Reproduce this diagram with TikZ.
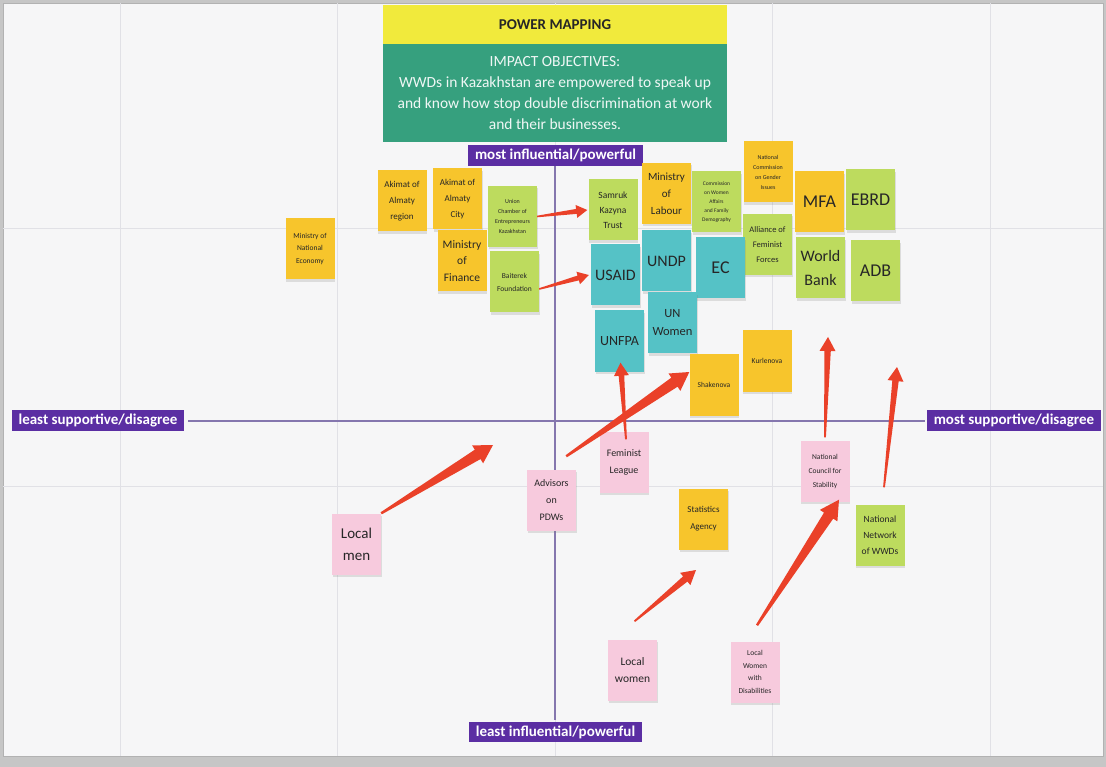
\documentclass[tikz,border=0pt]{standalone}
\usepackage{fontspec}
\setmainfont{Carlito}
\usetikzlibrary{arrows.meta, positioning, shadows, calc}

\definecolor{notegold}{HTML}{F7C52C}
\definecolor{notelime}{HTML}{BDDB5E}
\definecolor{noteteal}{HTML}{55C2C6}
\definecolor{notepink}{HTML}{F7CADD}
\definecolor{axispurple}{HTML}{5B2EA3}
\definecolor{axisline}{HTML}{8577AE}
\definecolor{headyellow}{HTML}{F1EA3C}
\definecolor{headgreen}{HTML}{36A07E}
\definecolor{arrowred}{HTML}{EA4129}
\definecolor{boardgray}{HTML}{F6F6F7}
\definecolor{gridgray}{HTML}{E1E1E6}

% wedge arrow: from, to, tail half width, shaft half width, head half width, head length
\newcommand{\wedgearrow}[6]{%
  \path ($(#2)!#6!(#1)$) coordinate (wedgebase);
  \fill[arrowred]
    ($(#1)!#3!90:(#2)$)
    -- ($(wedgebase)!#4!-90:(#1)$)
    -- ($(wedgebase)!#5!-90:(#1)$)
    -- (#2)
    -- ($(wedgebase)!#5!90:(#1)$)
    -- ($(wedgebase)!#4!90:(#1)$)
    -- ($(#1)!#3!-90:(#2)$) -- cycle;}

\begin{document}
\begin{tikzpicture}[
    x=1pt, y=-1pt,
    note/.style={minimum width=49pt, minimum height=61pt, inner sep=1pt,
        align=center, text=black!85,
        drop shadow={shadow xshift=0.5pt, shadow yshift=-2.5pt, opacity=0.22}},
    gold/.style={note, fill=notegold},
    lime/.style={note, fill=notelime},
    teal/.style={note, fill=noteteal},
    pink/.style={note, fill=notepink},
    fs/.style 2 args={font=\fontsize{#1}{#2}\selectfont},
    axislabel/.style={fill=axispurple, text=white, inner xsep=7pt, inner ysep=4pt,
        font=\fontsize{15}{16}\bfseries\selectfont}
]

% board
\useasboundingbox (0,0) rectangle (1106,767);
\fill[gray!45] (0,0) rectangle (1106,767);
\fill[boardgray, draw=gray!60] (3,3) rectangle (1103,756);
\foreach \gx in {120, 337, 772, 990}
    \draw[gridgray] (\gx,3) -- (\gx,756);
\foreach \gy in {228, 486}
    \draw[gridgray] (3,\gy) -- (1103,\gy);
\draw[gridgray] (555,3) -- (555,756);

% axes
\draw[axisline, line width=1.1pt] (188,421) -- (925,421);
\draw[axisline, line width=1.1pt] (555,166) -- (555,720);

% header
\node[fill=headyellow, minimum width=344pt, minimum height=39pt,
      font=\fontsize{15}{17}\bfseries\selectfont, text=black!85] (title) at (555,24.5) {POWER MAPPING};
\node[fill=headgreen, minimum width=344pt, minimum height=98pt, align=center,
      text=white!92!headgreen, font=\fontsize{15.5}{21}\selectfont, below=0pt of title] (impact)
    {IMPACT OBJECTIVES:\\ WWDs in Kazakhstan are empowered to speak up\\
     and know how stop double discrimination at work\\ and their businesses.};

% axis labels
\node[axislabel] (mostinf) at (555.5,155.5) {most influential/powerful};
\node[axislabel] (leastinf) at (555.5,732) {least influential/powerful};
\node[axislabel] (leastsup) at (98,420.5) {least supportive/disagree};
\node[axislabel] (mostsup) at (1014,420.5) {most supportive/disagree};

% actors
\node[gold, fs={7.5}{12.5}] (mne) at (310,249) {Ministry of\\ National\\ Economy};
\node[gold, fs={9}{16}] (akregion) at (402,201) {Akimat of\\ Almaty\\ region};
\node[gold, fs={9}{16}] (akcity) at (457.5,199) {Akimat of\\ Almaty\\ City};
\node[gold, fs={11.5}{16.5}] (minfin) at (462,261) {Ministry\\ of\\ Finance};
\node[lime, fs={6}{10}] (chamber) at (512.5,216.5) {Union\\ Chamber of\\ Entrepreneurs\\ Kazakhstan};
\node[lime, fs={7.5}{13}] (baiterek) at (514.5,282) {Baiterek\\ Foundation};
\node[lime, fs={9.5}{15}] (samruk) at (613,210) {Samruk\\ Kazyna\\ Trust};
\node[gold, fs={11}{17}] (minlab) at (666.5,193.5) {Ministry\\ of\\ Labour};
\node[lime, fs={5.5}{9}] (committee) at (716.5,202) {Commission\\ on Women\\ Affairs\\ and Family\\ Demography};
\node[gold, fs={6}{10}] (gender) at (768,172) {National\\ Commission\\ on Gender\\ Issues};
\node[lime, fs={8.5}{15}] (alliance) at (767.5,244.5) {Alliance of\\ Feminist\\ Forces};
\node[gold, fs={18}{20}] (mfa) at (819.5,202) {MFA};
\node[lime, fs={18}{20}] (ebrd) at (870.5,200) {EBRD};
\node[lime, fs={16}{24}] (wb) at (820.5,268) {World\\ Bank};
\node[lime, fs={18}{20}] (adb) at (875.5,271) {ADB};
\node[teal, fs={16}{18}] (usaid) at (615.5,275) {USAID};
\node[teal, fs={16}{18}] (undp) at (666.5,261) {UNDP};
\node[teal, fs={18}{20}] (ec) at (720.5,268) {EC};
\node[teal, fs={12.5}{18}] (unwomen) at (672.5,323) {UN\\ Women};
\node[teal, fs={14}{16}] (unfpa) at (619.5,341) {UNFPA};
\node[gold, fs={7.5}{9}] (shakenova) at (714,385) {Shakenova};
\node[gold, fs={7.5}{9}] (kurlenova) at (767,361) {Kurlenova};
\node[pink, fs={10}{17}] (feminist) at (624,462) {Feminist\\ League};
\node[pink, fs={10}{17}] (advisors) at (551.5,500) {Advisors\\ on\\ PDWs};
\node[pink, fs={7.5}{14}] (council) at (825,471) {National\\ Council for\\ Stability};
\node[gold, fs={9}{17}] (stats) at (703.5,519) {Statistics\\ Agency};
\node[lime, fs={9.5}{16}] (network) at (880,535) {National\\ Network\\ of WWDs};
\node[pink, fs={15}{22}] (localmen) at (356.5,544) {Local\\ men};
\node[pink, fs={11.5}{17}] (localwomen) at (632.5,670) {Local\\ women};
\node[pink, fs={7.5}{12.5}] (lwd) at (755,672) {Local\\ Women\\ with\\ Disabilities};

% arrow ends
\coordinate (chamberout) at (chamber.east);
\coordinate (samrukin) at ([xshift=-1pt]samruk.west);
\coordinate (baiterekout) at ([yshift=-7pt]baiterek.east);
\coordinate (usaidin) at ([xshift=-2pt]usaid.west);
\coordinate (menout) at (localmen.north east);
\coordinate (menhead) at (493,445);
\coordinate (advisorsout) at ([xshift=-10pt, yshift=13pt]advisors.north east);
\coordinate (shakenovain) at ([yshift=13pt]shakenova.west);
\coordinate (feministout) at ([xshift=2pt, yshift=-8pt]feminist.north);
\coordinate (unfpain) at ([xshift=1pt, yshift=9pt]unfpa.south);
\coordinate (councilout) at ([yshift=3pt]council.north);
\coordinate (councilhead) at (828,337);
\coordinate (networkout) at ([xshift=4pt, yshift=17pt]network.north);
\coordinate (networkhead) at (897,367);
\coordinate (womenout) at ([xshift=2pt, yshift=18pt]localwomen.north);
\coordinate (womenhead) at (696,570);
\coordinate (lwdout) at ([xshift=2pt, yshift=16pt]lwd.north);
\coordinate (councilin) at ([xshift=14pt, yshift=2pt]council.south);

% arrows
\wedgearrow{chamberout}{samrukin}{0.8pt}{2.5pt}{6.5pt}{11pt}
\wedgearrow{baiterekout}{usaidin}{0.8pt}{2.5pt}{6.5pt}{11pt}
\wedgearrow{menout}{menhead}{1.2pt}{5.5pt}{10.5pt}{18pt}
\wedgearrow{advisorsout}{shakenovain}{1.2pt}{5.5pt}{10.5pt}{18pt}
\wedgearrow{feministout}{unfpain}{0.9pt}{2.8pt}{7.5pt}{13pt}
\wedgearrow{councilout}{councilhead}{0.9pt}{3.2pt}{8pt}{14pt}
\wedgearrow{networkout}{networkhead}{0.9pt}{3.2pt}{8pt}{14pt}
\wedgearrow{womenout}{womenhead}{0.9pt}{3.4pt}{8pt}{14pt}
\wedgearrow{lwdout}{councilin}{1.2pt}{5.5pt}{10.5pt}{19pt}

\end{tikzpicture}
\end{document}
